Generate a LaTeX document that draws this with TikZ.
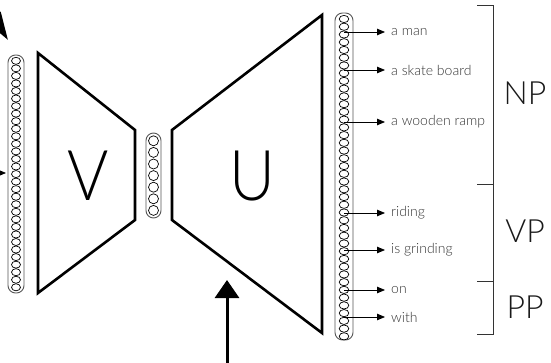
\documentclass[tikz,border=0pt]{standalone}
\usepackage{fontspec}
\setmainfont{Liberation Sans}
\newfontfamily\lightfont{Lato Light}
\usepackage{graphicx}
\usetikzlibrary{arrows.meta}
\definecolor{txtgray}{HTML}{333333}
\definecolor{capgray}{HTML}{555555}
\tikzset{
  trap/.style={line width=2.6pt, line join=miter},
  capsule/.style={draw=capgray, line width=0.9pt, rounded corners=7.5pt, inner sep=0pt},
  cell/.style={draw=black, line width=0.7pt},
  bigarrow/.style={line width=3pt, -{Triangle[length=18pt,width=24pt]}},
  wedgearrow/.style={line width=3pt, -{Triangle[length=28pt,width=17pt]}},
  smallarrow/.style={line width=0.8pt, -{Triangle[length=8pt,width=6.5pt]}},
  wordlbl/.style={anchor=west, text=txtgray, font=\lightfont\fontsize{14}{16}\selectfont, inner sep=0pt},
  phraselbl/.style={text=black!90, font=\lightfont\fontsize{32}{35}\selectfont, inner sep=0pt},
  biglbl/.style={font=\lightfont\fontsize{70}{74}\selectfont, inner sep=0pt},
  brk/.style={draw=black!80, line width=0.9pt}
}
\begin{document}
\begin{tikzpicture}[x=1pt,y=-1pt]
\useasboundingbox (0,0) rectangle (551,363);

% trapezoids
\draw[trap] (38,53) -- (135,130) -- (135,220) -- (38,293) -- cycle;
\draw[trap] (172,130) -- (322,15) -- (322,333) -- (172,220) -- cycle;
\node[biglbl] (V) at (88,176) {\scalebox{0.9}[1]{V}};
\node[biglbl] (U) at (252,176) {\scalebox{0.9}[1]{U}};

% left column
\node[capsule, minimum width=16pt, minimum height=238pt] (lcol) at (16,174) {};
\foreach \i in {0,...,30} {
  \draw[cell] (16,{60.8+\i*7.55}) ellipse [x radius=4.5pt, y radius=3.5pt];
}

% middle column
\node[capsule, minimum width=15pt, minimum height=85pt] (mcol) at (153.5,175.5) {};
\foreach \i in {0,...,6} {
  \draw[cell] (153.5,{140.8+\i*11.6}) ellipse [x radius=5pt, y radius=5pt];
}

% right column
\node[capsule, minimum width=18pt, minimum height=327pt] (rcol) at (344,176.5) {};
\foreach \i in {0,...,41} {
  \draw[cell] (344,{19+\i*7.74}) ellipse [x radius=4.8pt, y radius=3.6pt];
}

% word arrows
\foreach \y/\nm/\t in {32/w1/a man, 70/w2/a skate board, 122/w3/a wooden ramp,
                      213/w4/riding, 250/w5/is grinding, 290/w6/on, 317/w7/with} {
  \coordinate (\nm s) at (344,\y);
  \node[wordlbl] (\nm) at (391,\y) {\t};
  \draw[smallarrow] (\nm s) -- (\nm.west -| 385,0);
}

% brackets
\coordinate (b0) at (477,5);
\coordinate (b1) at (493,5);
\coordinate (b2) at (493,334);
\coordinate (b3) at (477,334);
\coordinate (t1a) at (477,184);
\coordinate (t1b) at (493,184);
\coordinate (t2a) at (477,281);
\coordinate (t2b) at (493,281);
\draw[brk] (b0) -- (b1) -- (b2) -- (b3);
\draw[brk] (t1a) -- (t1b);
\draw[brk] (t2a) -- (t2b);
\node[phraselbl] (NP) at (525,93) {NP};
\node[phraselbl] (VP) at (525,231) {VP};
\node[phraselbl] (PP) at (525,307) {PP};

% input arrows
\coordinate (bstart) at (227,375);
\coordinate (btip) at (227,280);
\draw[bigarrow] (bstart) -- (btip);

\coordinate (tlstart) at (-24,-11);
\coordinate (tltip) at (8,40);
\draw[wedgearrow] (tlstart) -- (tltip);

\coordinate (lmstart) at (-20,173);
\coordinate (lmtip) at (6,173);
\draw[smallarrow] (lmstart) -- (lmtip);
\end{tikzpicture}
\end{document}
